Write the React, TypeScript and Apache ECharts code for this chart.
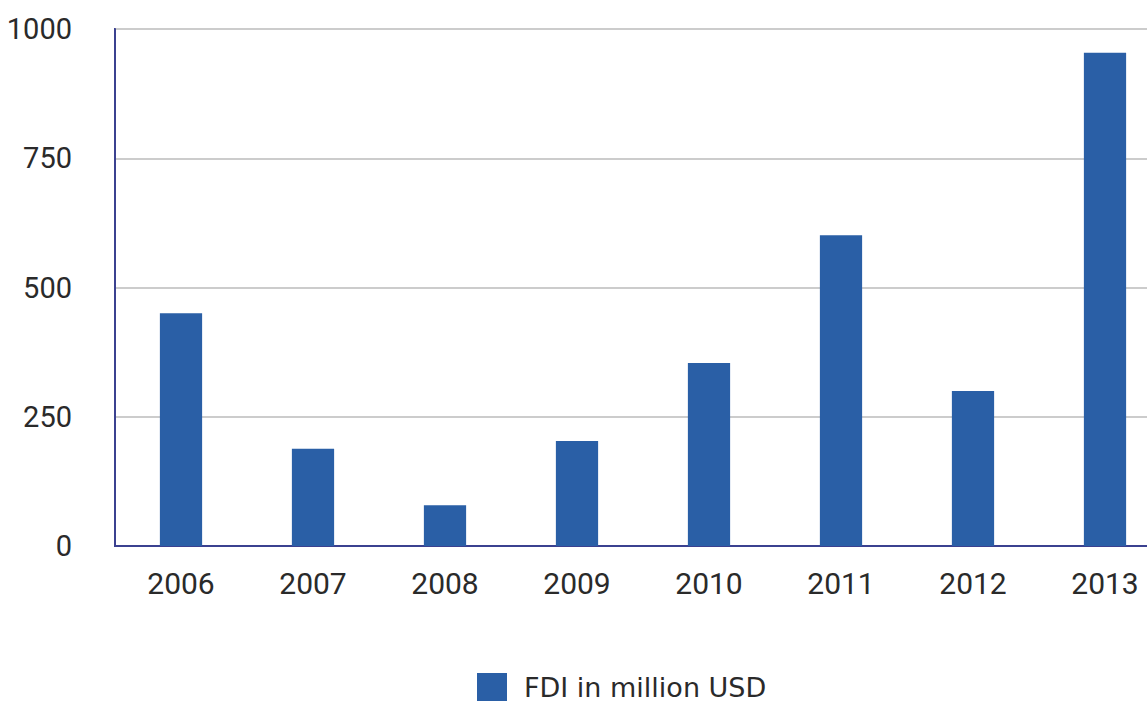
import React, { useEffect, useRef } from "react";
import * as echarts from "echarts";

const years = ["2006", "2007", "2008", "2009", "2010", "2011", "2012", "2013"];
const fdi = [450, 188, 79, 203, 354, 601, 300, 954];
const yTicks = [0, 250, 500, 750, 1000];
const seriesName = "FDI in million USD";

export default function App() {
  const ref = useRef<HTMLDivElement>(null);
  useEffect(() => {
    if (!ref.current) return;
    const chart = echarts.init(ref.current, undefined, { renderer: "svg" });
    chart.setOption({
      animation: false,
      backgroundColor: "#ffffff",
      textStyle: { fontFamily: "Roboto" },
      grid: {
        left: 115,
        top: 29,
        width: 1056,
        height: 517,
        show: true,
        borderColor: "#3b4190",
        borderWidth: 2,
        backgroundColor: "transparent",
      },
      legend: {
        data: [seriesName],
        left: 472,
        top: 668,
        itemWidth: 30,
        itemHeight: 28,
        itemGap: 10,
        icon: "rect",
        textStyle: {
          fontSize: 27,
          color: "#2a2a2a",
          fontFamily: "DejaVu Sans",
          padding: [0, 0, 0, 12],
          lineHeight: 28,
        },
      },
      xAxis: {
        type: "category",
        data: years,
        axisLine: { show: true, lineStyle: { color: "#3b4190", width: 2 } },
        axisTick: { show: false },
        axisLabel: { fontSize: 30, color: "#2a2a2a", margin: 22, fontFamily: "Roboto" },
      },
      yAxis: {
        type: "value",
        min: yTicks[0],
        max: yTicks[yTicks.length - 1],
        interval: yTicks[1] - yTicks[0],
        axisLine: { show: true, lineStyle: { color: "#3b4190", width: 2 } },
        axisTick: { show: false },
        splitLine: { lineStyle: { color: "#cccccc", width: 2 } },
        axisLabel: {
          fontSize: 29,
          color: "#2a2a2a",
          margin: 43,
          fontFamily: "Roboto",
          formatter: (v: number) => String(v),
        },
      },
      series: [
        {
          name: seriesName,
          type: "bar",
          data: fdi,
          barWidth: "32%",
          itemStyle: { color: "#2a5fa6" },
        },
      ],
    });
    return () => chart.dispose();
  }, []);
  return (
    <div style={{ position: "fixed", left: 0, top: 0, width: 1147, height: 706, overflow: "hidden", background: "#fff" }}>
      <div ref={ref} style={{ width: 1200, height: 706 }} />
    </div>
  );
}
